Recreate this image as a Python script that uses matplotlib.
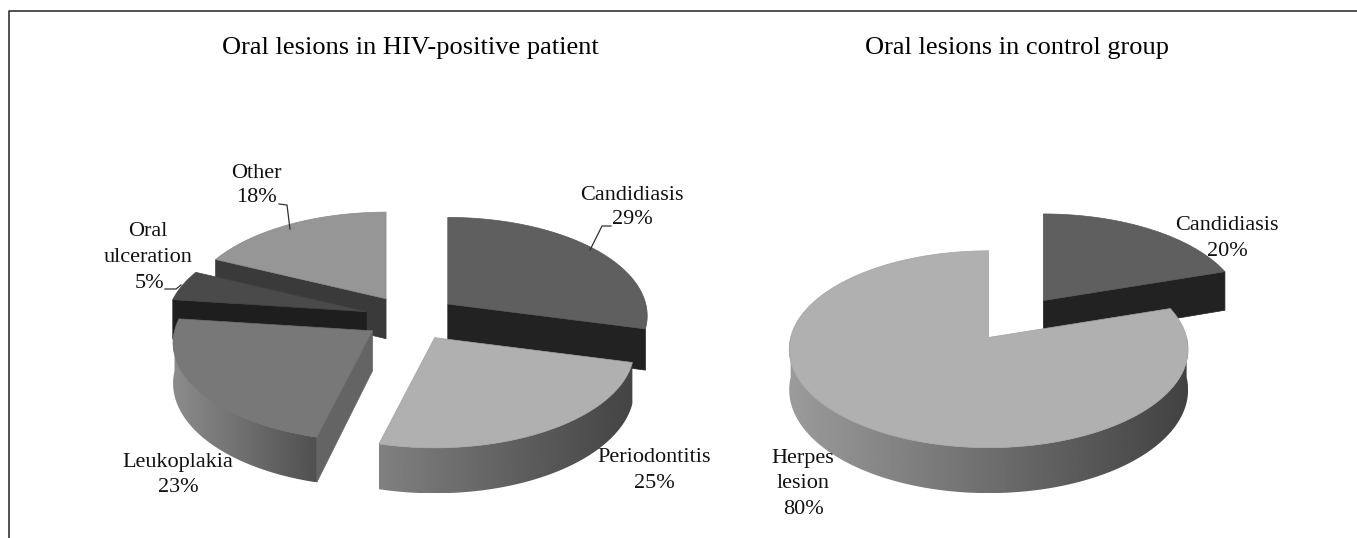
import numpy as np
import matplotlib
matplotlib.use("Agg")
import matplotlib.pyplot as plt
from matplotlib.patches import Polygon

plt.rcParams['font.family'] = ['Liberation Serif', 'DejaVu Serif']

# percentages, clockwise from 12 o'clock
hiv_names = ["Candidiasis", "Periodontitis", "Leukoplakia", "Oral ulceration", "Other"]
hiv_values = [29, 25, 23, 5, 18]
control_names = ["Candidiasis", "Herpes lesion"]
control_values = [20, 80]

title_hiv = "Oral lesions in HIV-positive patient"
title_control = "Oral lesions in control group"

# look of the pie, in pixels
RX, RY, DEPTH, PERSP = 198, 97, 40, 0.12
EXPLODE = 0.235


def project(u, v, cx, cy):
    w = 1 + PERSP * v
    return cx + RX * u / w, cy - RY * v / w


def rim(a, cx, cy, z=0):
    # point on the rim at angle a (degrees), z=1 is the bottom of the slab
    a = np.radians(a)
    u, v = np.cos(a), np.sin(a)
    x, y = project(u, v, cx, cy)
    return x, y + z * DEPTH / (1 + PERSP * v)


def grey(g):
    return (g / 255, g / 255, g / 255)


def draw_slice(ax, a1, a2, apex, top, radial, arc_left, arc_right, zorder):
    cx, cy = apex
    # radial walls which face the viewer
    for a, turn in [(a1, 90), (a2, -90)]:
        if np.sin(np.radians(a + turn)) < -0.01:
            x0, y0 = rim(a, cx, cy)
            x1, y1 = rim(a, cx, cy, 1)
            ax.fill([cx, x0, x1, cx], [cy, y0, y1, cy + DEPTH],
                    color=grey(radial), lw=0.5, zorder=zorder)
    # outer wall, shaded from left to right, skipped when it is only a sliver
    lo, hi = max(a2, -180), min(a1, 0)
    if hi - lo > 20:
        steps = np.linspace(lo, hi, 200)
        xt, yt = rim(steps, cx, cy)
        xb, yb = rim(steps, cx, cy, 1)
        ramp = np.linspace(arc_left, arc_right, 256).reshape(1, -1)
        im = ax.imshow(ramp, cmap="gray", vmin=0, vmax=255, aspect="auto", zorder=zorder,
                       extent=(xt.min(), xt.max(), yb.max(), yt.min()), interpolation="bilinear")
        clip = Polygon(np.c_[np.r_[xt, xb[::-1]], np.r_[yt, yb[::-1]]], transform=ax.transData)
        im.set_clip_path(clip)
    # top face
    angles = np.linspace(a1, a2, 200)
    x, y = rim(angles, cx, cy)
    ax.fill(np.r_[cx, x], np.r_[cy, y], facecolor=grey(top), edgecolor=grey(top * 0.92),
            lw=0.5, zorder=zorder + 0.5)


def draw_pie(ax, center, values, styles, order):
    edges = 90 - np.cumsum([0] + list(values)) * 3.6
    for k, i in enumerate(order):
        a1, a2 = edges[i], edges[i + 1]
        mid = np.radians((a1 + a2) / 2)
        apex = (center[0] + EXPLODE * RX * np.cos(mid), center[1] - EXPLODE * RY * np.sin(mid))
        draw_slice(ax, a1, a2, apex, *styles[i], zorder=2 + k)


def leader(ax, xs, ys):
    ax.plot(xs, ys, color="#303030", lw=0.9, zorder=20)


fig = plt.figure(figsize=(13.57, 5.38), dpi=100)
ax = fig.add_axes([0, 0, 1, 1])
ax.set_xlim(0, 1357)
ax.set_ylim(538, 0)
ax.autoscale(False)
ax.axis("off")

# chart frame
ax.plot([9, 9, 1357], [538, 11, 11], color="#333333", lw=1.2)

# top, radial wall, outer wall left, outer wall right
hiv_styles = [(95, 34, 50, 34), (176, 0, 128, 68), (120, 100, 140, 80), (74, 30, 40, 30), (150, 58, 60, 58)]
control_styles = [(95, 34, 50, 34), (176, 0, 155, 66)]

draw_pie(ax, (411, 318), hiv_values, hiv_styles, [4, 3, 2, 0, 1])
draw_pie(ax, (1016, 319), control_values, control_styles, [0, 1])

ax.text(410, 48, title_hiv, ha="center", va="center", fontsize=19, zorder=30)
ax.text(1017, 48, title_control, ha="center", va="center", fontsize=19, zorder=30)

fs = 16
labels = [
    (632, 195, hiv_names[0]), (632, 220, "%d%%" % hiv_values[0]),
    (654, 458, hiv_names[1]), (654, 483, "%d%%" % hiv_values[1]),
    (178, 462, hiv_names[2]), (178, 487, "%d%%" % hiv_values[2]),
    (148, 232, "Oral"), (148, 258, "ulceration"), (149, 284, "%d%%" % hiv_values[3]),
    (256, 173, hiv_names[4]), (256, 197, "%d%%" % hiv_values[4]),
    (1227, 226, control_names[0]), (1227, 251, "%d%%" % control_values[0]),
    (803, 459, "Herpes"), (803, 484, "lesion"), (803, 510, "%d%%" % control_values[1]),
]
for x, y, s in labels:
    ax.text(x, y, s, ha="center", va="center", fontsize=fs, color="#111111", zorder=30)

leader(ax, [290, 287, 279], [229, 205, 204])
leader(ax, [590, 602, 611], [250, 226, 226])
leader(ax, [165, 176, 181], [289, 289, 285])

fig.savefig("out.png", dpi=100)
